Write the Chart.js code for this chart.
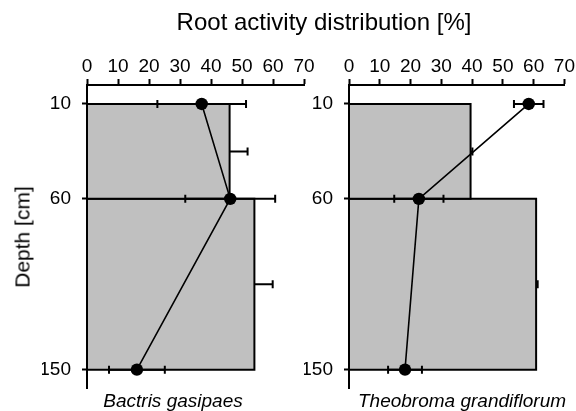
<!DOCTYPE html>
<html>
<head>
<meta charset="utf-8">
<script src="https://cdn.jsdelivr.net/npm/chart.js@4/dist/chart.umd.min.js"></script>
<style>
  html, body { margin: 0; padding: 0; background: #fff; }
  #wrap { position: relative; width: 576px; height: 411px; overflow: hidden; font-family: "Liberation Sans", Arial, sans-serif; color: #000; }
  canvas { position: absolute; left: 0; top: 0; }
  .txt { position: absolute; white-space: nowrap; line-height: 1; }
  #title { font-size: 24px; left: 324px; top: 10px; transform: translateX(-50%); }
  #ylab { font-size: 21px; left: 22px; top: 237px; transform: translate(-50%, -50%) rotate(-90deg); }
  .sp { font-size: 19px; font-style: italic; top: 391px; transform: translateX(-50%); }
  #sp1 { left: 173px; }
  #sp2 { left: 462px; }
</style>
</head>
<body>
<div id="wrap">
  <canvas id="c1" width="576" height="411"></canvas>
  <canvas id="c2" width="576" height="411"></canvas>
  <div class="txt" id="title">Root activity distribution [%]</div>
  <div class="txt" id="ylab">Depth [cm]</div>
  <div class="txt sp" id="sp1">Bactris gasipaes</div>
  <div class="txt sp" id="sp2">Theobroma grandiflorum</div>
</div>
<script>
// ---- data ----
const depths = [10, 60, 150];              // sampling depths [cm]
const depthTicks = [10, 60, 150];          // y tick labels
const layerTop = [10, 60];                 // soil layer upper bound [cm]
const layerBottom = [60, 150];             // soil layer lower bound [cm]

const bactrisMean = [37, 46.2, 16.1];      // root activity [%]
const bactrisErr = [14.3, 14.5, 9];
const bactrisLayer = [46, 54];             // layer bars [%]
const bactrisLayerErr = [5.8, 5.9];

const theobromaMean = [58.4, 22.7, 18.2];
const theobromaErr = [4.8, 8, 5.5];
const theobromaLayer = [39.5, 60.8];
const theobromaLayerErr = [0.6, 0.5];

const xMin = 0, xMax = 70, xStep = 10;
const depthMin = 0, depthMax = 160;

const FONT = '"Liberation Sans", Arial, sans-serif';

function buildDatasets(mean, err, layer, layerErr) {
  const ds = [];
  // connecting line + markers
  ds.push({
    data: depths.map((d, i) => ({ x: mean[i], y: d })),
    showLine: true, borderColor: '#000', borderWidth: 1.6,
    pointRadius: 6.2, pointBackgroundColor: '#000', pointBorderColor: '#000',
    pointBorderWidth: 0, tension: 0, order: 0
  });
  // horizontal error bars of the points
  depths.forEach((d, i) => {
    ds.push({
      data: [{ x: mean[i] - err[i], y: d }, { x: mean[i] + err[i], y: d }],
      showLine: true, borderColor: '#000', borderWidth: 2,
      pointStyle: 'line', pointRotation: 90, pointRadius: 4,
      pointBorderColor: '#000', pointBorderWidth: 2, order: 1
    });
  });
  // one-sided error bars of layer bars
  layer.forEach((v, i) => {
    const mid = (layerTop[i] + layerBottom[i]) / 2;
    ds.push({
      data: [{ x: v, y: mid }, { x: v + layerErr[i], y: mid }],
      showLine: true, borderColor: '#000', borderWidth: 2,
      pointStyle: 'line', pointRotation: 90, pointRadius: [0, 4],
      pointBorderColor: '#000', pointBorderWidth: 2, order: 2
    });
  });
  // layer bars (closed shapes)
  layer.forEach((v, i) => {
    ds.push({
      data: [
        { x: 0, y: layerTop[i] }, { x: v, y: layerTop[i] },
        { x: v, y: layerBottom[i] }, { x: 0, y: layerBottom[i] },
        { x: 0, y: layerTop[i] }
      ],
      showLine: true, fill: 'shape', backgroundColor: '#c0c0c0',
      borderColor: '#000', borderWidth: 2, pointRadius: 0, tension: 0,
      borderJoinStyle: 'miter', order: 3 + i
    });
  });
  return ds;
}

function makePanel(id, mean, err, layer, layerErr, padL, padR) {
  return new Chart(document.getElementById(id), {
    type: 'scatter',
    data: { datasets: buildDatasets(mean, err, layer, layerErr) },
    options: {
      responsive: false, animation: false, devicePixelRatio: 1,
      layout: { padding: { left: padL, right: padR, top: 0, bottom: 20 } },
      plugins: { legend: { display: false }, tooltip: { enabled: false } },
      scales: {
        x: {
          type: 'linear', position: 'top', min: xMin, max: xMax,
          ticks: { stepSize: xStep, color: '#000', font: { family: FONT, size: 19 }, padding: 1, maxRotation: 0 },
          grid: { drawOnChartArea: false, drawTicks: true, tickLength: 6, tickWidth: 2, tickColor: '#000' },
          border: { display: true, color: '#000', width: 2 },
          afterFit: (a) => { a.height = 85; }
        },
        y: {
          type: 'linear', reverse: true, min: depthMin, max: depthMax,
          afterBuildTicks: (a) => { a.ticks = depthTicks.map(v => ({ value: v })); },
          ticks: { color: '#000', font: { family: FONT, size: 19 }, padding: 11 },
          grid: { drawOnChartArea: false, drawTicks: true, tickLength: 5, tickWidth: 2, tickColor: '#000' },
          border: { display: true, color: '#000', width: 2 },
          afterFit: (a) => { a.width = 45; }
        }
      }
    }
  });
}

makePanel('c1', bactrisMean, bactrisErr, bactrisLayer, bactrisLayerErr, 42, 272);
makePanel('c2', theobromaMean, theobromaErr, theobromaLayer, theobromaLayerErr, 304, 11);
</script>
</body>
</html>
